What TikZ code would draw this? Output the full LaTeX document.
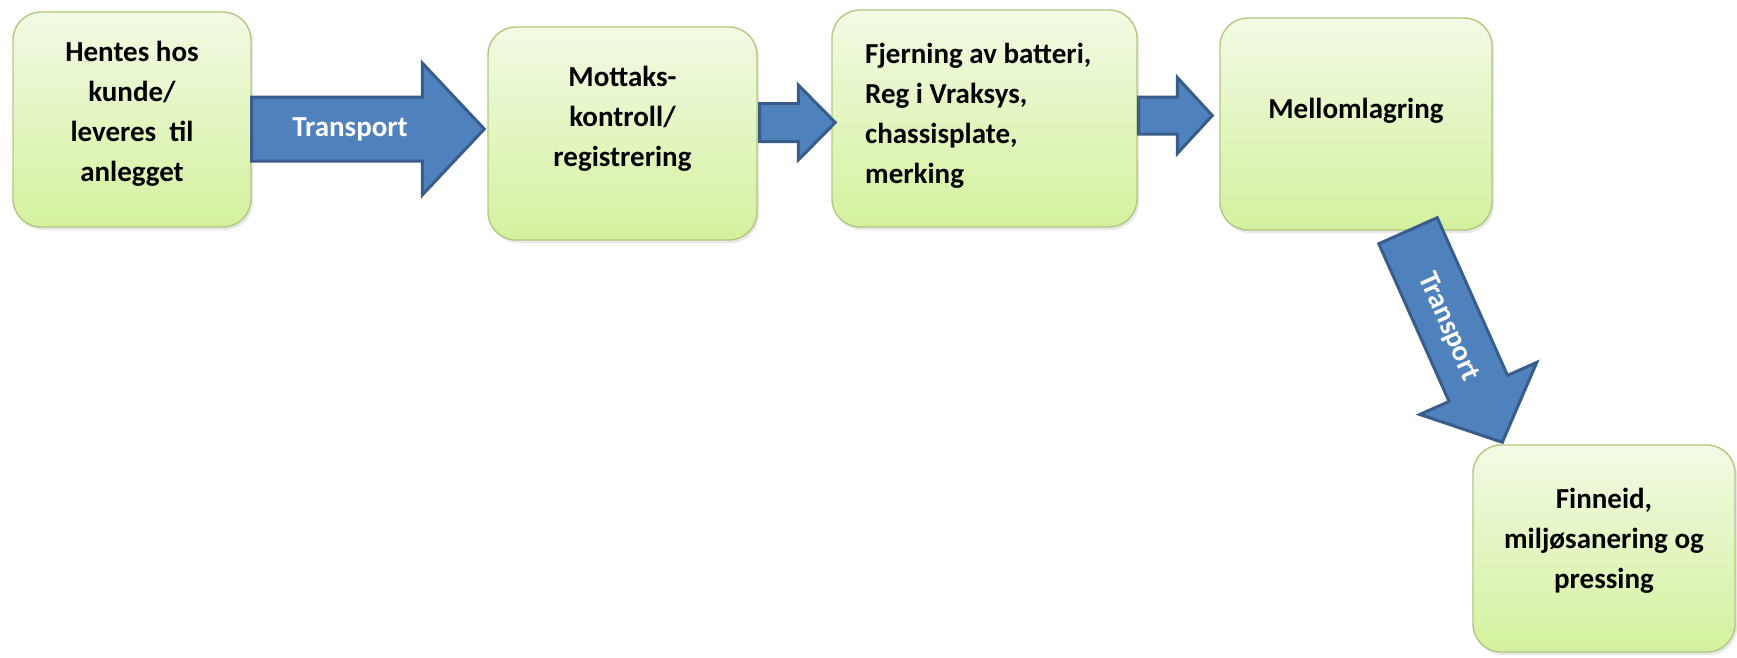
\documentclass[tikz,border=0pt]{standalone}
\usepackage{fontspec}
\setmainfont{Carlito}
\usetikzlibrary{calc,shadows}

\definecolor{boxtop}{RGB}{242,250,228}
\definecolor{boxbot}{RGB}{212,241,158}
\definecolor{boxline}{RGB}{178,200,128}
\definecolor{arrowfill}{RGB}{79,129,189}
\definecolor{arrowline}{RGB}{56,93,138}

\tikzset{
  stepbox/.style={rectangle, rounded corners=28pt, inner sep=0pt,
    draw=boxline, line width=1.4pt, top color=boxtop, bottom color=boxbot,
    drop shadow={opacity=0.18, shadow xshift=2pt, shadow yshift=-3pt}},
  boxtext/.style={inner sep=0pt, text=black,
    font=\fontsize{29}{40}\selectfont\bfseries},
  blockarrow/.style={fill=arrowfill, draw=arrowline, line width=3pt, line join=miter},
  arrowlabel/.style={inner sep=0pt, text=white,
    font=\fontsize{29}{32}\selectfont\bfseries},
}

% block arrow from #1 to tip #2: shaft half width #3, head half width #4, head length #5
\newcommand\blockarrow[5]{%
  \coordinate (ba-h) at ($(#2)!#5!(#1)$);
  \draw[blockarrow]
    ($(#1)!#3!90:(#2)$) -- ($(ba-h)!#3!90:(#2)$) -- ($(ba-h)!#4!90:(#2)$) -- (#2)
    -- ($(ba-h)!#4!-90:(#2)$) -- ($(ba-h)!#3!-90:(#2)$) -- ($(#1)!#3!-90:(#2)$) -- cycle;
}

\begin{document}
\begin{tikzpicture}[x=1pt,y=-1pt]
  \fill[white] (0,0) rectangle (1737,657);
  \useasboundingbox (0,0) rectangle (1737,657);

  % process steps
  \node[stepbox, minimum width=238pt, minimum height=215pt] (b1) at (132,119.5) {};
  \node[stepbox, minimum width=269pt, minimum height=213pt] (b2) at (622.5,133.5) {};
  \node[stepbox, minimum width=305pt, minimum height=217pt] (b3) at (984.5,118.5) {};
  \node[stepbox, minimum width=272pt, minimum height=212pt] (b4) at (1356,124) {};
  \node[stepbox, minimum width=262pt, minimum height=207pt] (b5) at (1604,548.5) {};

  \node[boxtext, align=center] (t1) at (132,114) {Hentes hos\\kunde/\\leveres\ \ til\\anlegget};
  \node[boxtext, align=center] (t2) at (622.5,119) {Mottaks-\\kontroll/\\registrering};
  \node[boxtext, align=left, anchor=west] (t3) at (865,116) {Fjerning av batteri,\\Reg i Vraksys,\\chassisplate,\\merking};
  \node[boxtext] (t4) at (1356,111) {Mellomlagring};
  \node[boxtext, align=center] (t5) at (1604,541) {Finneid,\\miljøsanering og\\pressing};

  % connecting block arrows
  \coordinate (a1s) at (b1.east |- 0,129);
  \coordinate (a1t) at ($(b2.west |- 0,129)+(-3,0)$);
  \blockarrow{a1s}{a1t}{32pt}{66pt}{62pt}

  \coordinate (a2s) at ($(b2.east |- 0,122.5)+(2,0)$);
  \coordinate (a2t) at ($(b3.west |- 0,122.5)+(4,0)$);
  \blockarrow{a2s}{a2t}{19pt}{37.5pt}{37pt}

  \coordinate (a3s) at ($(b3.east |- 0,115.5)+(1,0)$);
  \coordinate (a3t) at ($(b4.west |- 0,115.5)+(-7,0)$);
  \blockarrow{a3s}{a3t}{18.5pt}{38pt}{35pt}

  \coordinate (a4s) at (1408,0 |- b4.south);
  \coordinate (a4t) at ($(b5.north west)+(30,-2)$);
  \blockarrow{a4s}{a4t}{32pt}{64pt}{59pt}

  \node[arrowlabel] (l1) at (350,129) {Transport};
  \node[arrowlabel, rotate=-66] (l4) at (1448,327) {Transport};
\end{tikzpicture}
\end{document}
